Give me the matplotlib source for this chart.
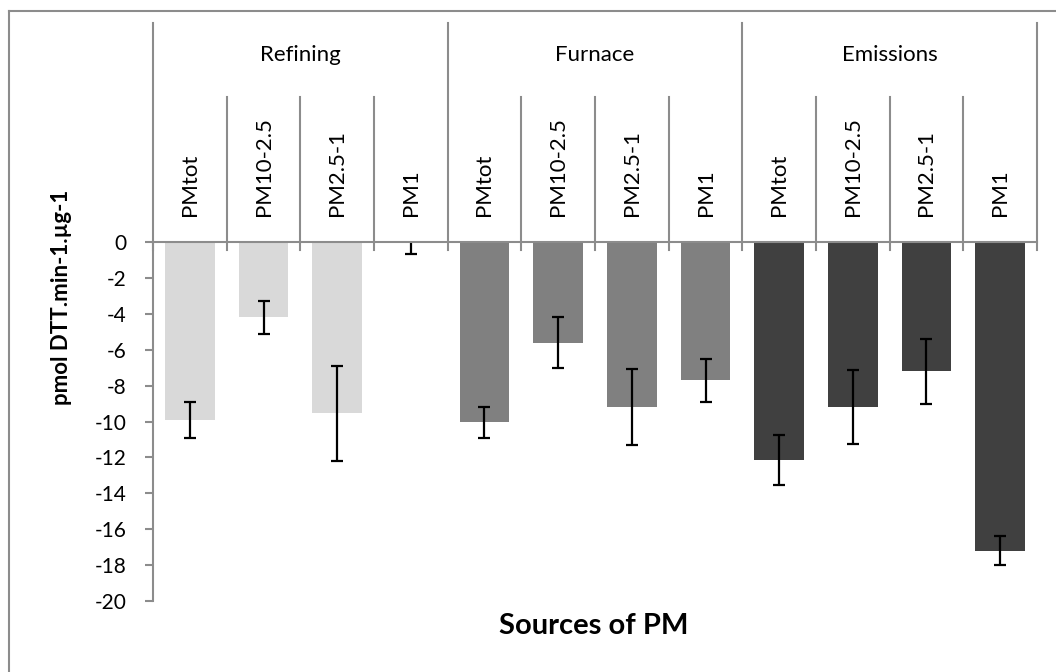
import matplotlib
matplotlib.use("Agg")
import matplotlib.pyplot as plt
from matplotlib.lines import Line2D
from matplotlib.transforms import blended_transform_factory

plt.rcParams['font.family'] = ['Lato', 'DejaVu Sans']
plt.rcParams['axes.unicode_minus'] = False

# DTT consumption by source and particle size fraction
sources = ["Refining", "Furnace", "Emissions"]
fractions = ["PMtot", "PM10-2.5", "PM2.5-1", "PM1"]
refining = [-9.9, -4.2, -9.55, -0.05]
refining_err = [1.0, 0.9, 2.65, 0.6]
furnace = [-10.05, -5.6, -9.2, -7.7]
furnace_err = [0.85, 1.4, 2.1, 1.2]
emissions = [-12.15, -9.2, -7.2, -17.2]
emissions_err = [1.4, 2.05, 1.8, 0.8]
group_colors = ["#D9D9D9", "#808080", "#404040"]
yticks = list(range(-20, 1, 2))

values = [refining, furnace, emissions]
errors = [refining_err, furnace_err, emissions_err]

W, H = 1056, 672
fig = plt.figure(figsize=(W / 100, H / 100), dpi=100)
ax = fig.add_axes([153 / W, 1 - 601 / H, (1037 - 153) / W, (601 - 242) / H])

axis_grey = "#8C8C8C"
n_sub = len(fractions)

for g, (vals, errs, col) in enumerate(zip(values, errors, group_colors)):
    xs = [g * n_sub + i for i in range(n_sub)]
    ax.bar(xs, vals, width=0.67, color=col, edgecolor="none", zorder=2)
    ax.errorbar(xs, vals, yerr=errs, fmt="none", ecolor="black",
                elinewidth=1.6, capsize=4.5, capthick=1.6, zorder=3)

n_cat = len(sources) * n_sub
ax.set_xlim(-0.5, n_cat - 0.5)
ax.set_ylim(-20, 0)
ax.set_yticks(yticks)
ax.set_yticklabels([str(v) for v in yticks])
ax.set_xticks([])

for side in ("right", "bottom"):
    ax.spines[side].set_visible(False)
for side in ("left", "top"):
    ax.spines[side].set_color(axis_grey)
    ax.spines[side].set_linewidth(1.5)
ax.spines["top"].set_zorder(4)

ax.tick_params(axis="y", direction="out", length=6, width=1.5, color=axis_grey,
               labelsize=15, pad=13, labelcolor="black")

# Category labels above the zero line
trans = blended_transform_factory(ax.transData, fig.transFigure)
def fy(py):
    return 1 - py / H

for k in range(n_cat + 1):
    x = k - 0.5
    top = 23 if k % n_sub == 0 else 97
    ax.add_line(Line2D([x, x], [fy(top), fy(250)], transform=trans,
                       color=axis_grey, lw=1.5, clip_on=False, zorder=5))

for g, name in enumerate(sources):
    cx = g * n_sub + (n_sub - 1) / 2
    ax.text(cx, fy(55), name, transform=trans, ha="center", va="center",
            fontsize=16, clip_on=False)
    for i, frac in enumerate(fractions):
        ax.text(g * n_sub + i, fy(216), frac, transform=trans, rotation=90,
                ha="center", va="bottom", fontsize=16, clip_on=False)

# Axis titles
fig.text(61 / W, fy(297), "pmol DTT.min-1.\u00b5g-1", rotation=90,
         ha="center", va="center", fontsize=16, fontweight="bold")
fig.text(594 / W, fy(626), "Sources of PM", ha="center", va="center",
         fontsize=21, fontweight="bold")

# Chart area border
fig.add_artist(Line2D([9 / W, 1.0], [fy(11), fy(11)], transform=fig.transFigure,
                      color=axis_grey, lw=1.5))
fig.add_artist(Line2D([9 / W, 9 / W], [fy(11), 0.0], transform=fig.transFigure,
                      color=axis_grey, lw=1.5))

fig.savefig("out.png", dpi=100, facecolor="white")
